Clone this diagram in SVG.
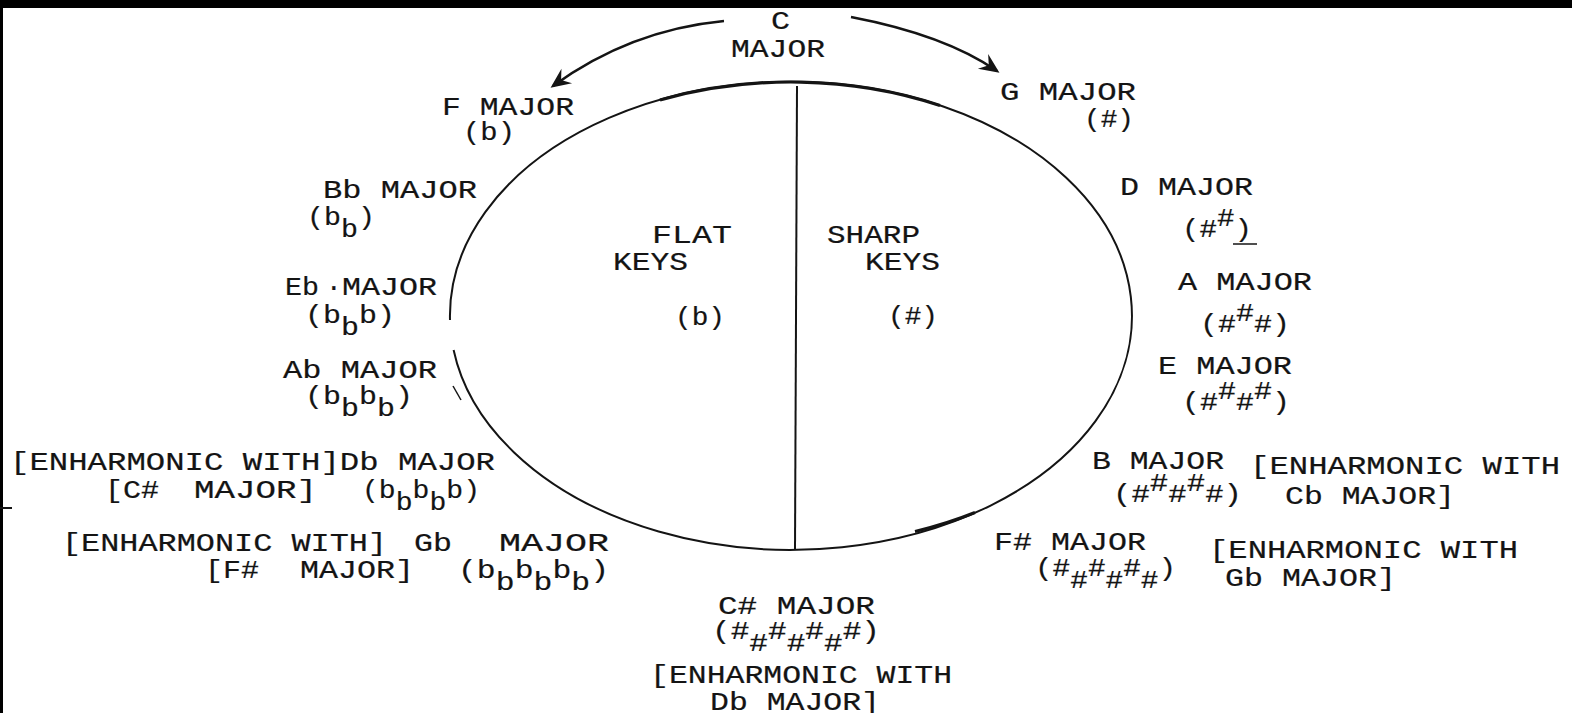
<svg xmlns="http://www.w3.org/2000/svg" width="1572" height="713" viewBox="0 0 1572 713">
<style>
.t{font-family:"Liberation Mono","DejaVu Sans Mono",monospace;font-size:26px;fill:#141414;stroke:#141414;stroke-width:0.2px}
.ln{fill:none;stroke:#141414;stroke-width:2}
.arc{fill:none;stroke:#141414;stroke-width:2.5}
</style>
<defs>
<marker id="ah" viewBox="0 0 10 10" refX="8.5" refY="5" markerWidth="24" markerHeight="20" orient="auto" markerUnits="userSpaceOnUse">
<path d="M0,0.5 L10,5 L0,9.5 L3.5,5 Z" fill="#141414"/>
</marker>
</defs>
<rect x="0" y="0" width="1572" height="713" fill="#ffffff"/>
<rect x="0" y="0" width="1572" height="8" fill="#000"/>
<rect x="0" y="0" width="3" height="713" fill="#000"/>
<line x1="0" y1="508" x2="12" y2="508" stroke="#141414" stroke-width="2"/>

<g id="circle">
<path class="ln" d="M453.6 350 A341 234 0 1 0 450 320"/>
<path fill="none" stroke="#141414" stroke-width="3.2" d="M660 100 A341 234 0 0 1 940 105.5"/>
<path fill="none" stroke="#141414" stroke-width="3" d="M915 531.5 A341 234 0 0 0 975 512.5"/>
<line class="ln" x1="797" y1="86" x2="795" y2="550"/>
<line x1="453" y1="386" x2="461" y2="400" stroke="#141414" stroke-width="1.5"/>
</g>

<g id="connectors">
<path class="arc" d="M724 21 Q630 30 553 86" marker-end="url(#ah)"/>
<path class="arc" d="M851 17 Q945 35 997 71" marker-end="url(#ah)"/>
</g>

<g id="c-major"><text class="t" x="771" y="29" textLength="19" lengthAdjust="spacingAndGlyphs">C</text><text class="t" x="731" y="57" textLength="94" lengthAdjust="spacingAndGlyphs">MAJOR</text></g>
<g id="f-major"><text class="t" x="442" y="115" textLength="132" lengthAdjust="spacingAndGlyphs">F MAJOR</text><text class="t" x="463" y="140" textLength="52" lengthAdjust="spacingAndGlyphs">(b)</text></g>
<g id="g-major"><text class="t" x="1000" y="100" textLength="136" lengthAdjust="spacingAndGlyphs">G MAJOR</text><text class="t" x="1084" y="127" textLength="50" lengthAdjust="spacingAndGlyphs">(#)</text></g>
<g id="bb-major"><text class="t" x="323" y="198" textLength="154" lengthAdjust="spacingAndGlyphs">Bb MAJOR</text><text class="t" x="307" y="225" textLength="68" lengthAdjust="spacingAndGlyphs">(b<tspan dy="12">b</tspan><tspan dy="-12">)</tspan></text></g>
<g id="d-major"><text class="t" x="1120" y="195" textLength="133" lengthAdjust="spacingAndGlyphs">D MAJOR</text><text class="t" x="1182" y="237" textLength="70" lengthAdjust="spacingAndGlyphs">(#<tspan dy="-11">#</tspan><tspan dy="11">)</tspan></text><line x1="1233" y1="244" x2="1257" y2="244" stroke="#141414" stroke-width="1.5"/></g>
<g id="flat-keys"><text class="t" x="652" y="243" textLength="80" lengthAdjust="spacingAndGlyphs">FLAT</text><text class="t" x="613" y="270" textLength="75" lengthAdjust="spacingAndGlyphs">KEYS</text><text class="t" x="675" y="325" textLength="50" lengthAdjust="spacingAndGlyphs">(b)</text></g>
<g id="sharp-keys"><text class="t" x="827" y="243" textLength="93" lengthAdjust="spacingAndGlyphs">SHARP</text><text class="t" x="865" y="270" textLength="75" lengthAdjust="spacingAndGlyphs">KEYS</text><text class="t" x="888" y="324" textLength="50" lengthAdjust="spacingAndGlyphs">(#)</text></g>
<g id="eb-major"><text class="t" x="285" y="295"><tspan textLength="34" lengthAdjust="spacingAndGlyphs">Eb</tspan><tspan x="326">·</tspan><tspan x="342" textLength="95" lengthAdjust="spacingAndGlyphs">MAJOR</tspan></text><text class="t" x="305" y="323" textLength="90" lengthAdjust="spacingAndGlyphs">(b<tspan dy="12">b</tspan><tspan dy="-12">b)</tspan></text></g>
<g id="a-major"><text class="t" x="1178" y="290" textLength="134" lengthAdjust="spacingAndGlyphs">A MAJOR</text><text class="t" x="1200" y="332" textLength="90" lengthAdjust="spacingAndGlyphs">(#<tspan dy="-11">#</tspan><tspan dy="11">#)</tspan></text></g>
<g id="ab-major"><text class="t" x="283" y="378" textLength="154" lengthAdjust="spacingAndGlyphs">Ab MAJOR</text><text class="t" x="305" y="404" textLength="108" lengthAdjust="spacingAndGlyphs">(b<tspan dy="12">b</tspan><tspan dy="-12">b</tspan><tspan dy="12">b</tspan><tspan dy="-12">)</tspan></text></g>
<g id="e-major"><text class="t" x="1158" y="374" textLength="134" lengthAdjust="spacingAndGlyphs">E MAJOR</text><text class="t" x="1182" y="410" textLength="108" lengthAdjust="spacingAndGlyphs">(#<tspan dy="-11">#</tspan><tspan dy="11">#</tspan><tspan dy="-11">#</tspan><tspan dy="11">)</tspan></text></g>
<g id="db-major"><text class="t" x="10" y="470" textLength="485" lengthAdjust="spacingAndGlyphs">[ENHARMONIC WITH]Db MAJOR</text><text class="t" x="105" y="498"><tspan textLength="54" lengthAdjust="spacingAndGlyphs">[C#</tspan><tspan x="194" textLength="123" lengthAdjust="spacingAndGlyphs">MAJOR]</tspan></text><text class="t" x="362" y="498" textLength="118" lengthAdjust="spacingAndGlyphs">(b<tspan dy="12">b</tspan><tspan dy="-12">b</tspan><tspan dy="12">b</tspan><tspan dy="-12">b)</tspan></text></g>
<g id="b-major"><text class="t" x="1092" y="469" textLength="132" lengthAdjust="spacingAndGlyphs">B MAJOR</text><text class="t" x="1250" y="474" textLength="310" lengthAdjust="spacingAndGlyphs">[ENHARMONIC WITH</text><text class="t" x="1113" y="502" textLength="129" lengthAdjust="spacingAndGlyphs">(#<tspan dy="-11">#</tspan><tspan dy="11">#</tspan><tspan dy="-11">#</tspan><tspan dy="11">#)</tspan></text><text class="t" x="1285" y="504" textLength="170" lengthAdjust="spacingAndGlyphs">Cb MAJOR]</text></g>
<g id="fs-major"><text class="t" x="994" y="550" textLength="152" lengthAdjust="spacingAndGlyphs">F# MAJOR</text><text class="t" x="1209" y="558" textLength="309" lengthAdjust="spacingAndGlyphs">[ENHARMONIC WITH</text><text class="t" x="1035" y="576" textLength="141" lengthAdjust="spacingAndGlyphs">(#<tspan dy="12">#</tspan><tspan dy="-12">#</tspan><tspan dy="12">#</tspan><tspan dy="-12">#</tspan><tspan dy="12">#</tspan><tspan dy="-12">)</tspan></text><text class="t" x="1225" y="586" textLength="171" lengthAdjust="spacingAndGlyphs">Gb MAJOR]</text></g>
<g id="gb-major"><text class="t" x="62" y="551" textLength="325" lengthAdjust="spacingAndGlyphs">[ENHARMONIC WITH]</text><text class="t" x="414" y="551"><tspan textLength="38" lengthAdjust="spacingAndGlyphs">Gb</tspan><tspan x="499" textLength="110" lengthAdjust="spacingAndGlyphs">MAJOR</tspan></text><text class="t" x="205" y="578"><tspan textLength="54" lengthAdjust="spacingAndGlyphs">[F#</tspan><tspan x="300" textLength="114" lengthAdjust="spacingAndGlyphs">MAJOR]</tspan></text><text class="t" x="458" y="578" textLength="151" lengthAdjust="spacingAndGlyphs">(b<tspan dy="12">b</tspan><tspan dy="-12">b</tspan><tspan dy="12">b</tspan><tspan dy="-12">b</tspan><tspan dy="12">b</tspan><tspan dy="-12">)</tspan></text></g>
<g id="cs-major"><text class="t" x="718" y="614" textLength="157" lengthAdjust="spacingAndGlyphs">C# MAJOR</text><text class="t" x="712" y="639" textLength="168" lengthAdjust="spacingAndGlyphs">(#<tspan dy="12">#</tspan><tspan dy="-12">#</tspan><tspan dy="12">#</tspan><tspan dy="-12">#</tspan><tspan dy="12">#</tspan><tspan dy="-12">#)</tspan></text><text class="t" x="650" y="683" textLength="302" lengthAdjust="spacingAndGlyphs">[ENHARMONIC WITH</text><text class="t" x="710" y="710" textLength="170" lengthAdjust="spacingAndGlyphs">Db MAJOR]</text></g>
</svg>
